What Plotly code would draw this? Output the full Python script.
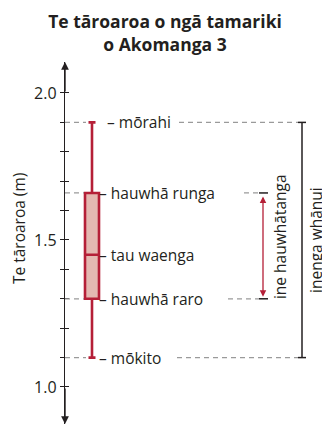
import plotly.graph_objects as go

# --------------------------- DATA ---------------------------

stat_labels = ["mōrahi", "hauwhā runga", "tau waenga", "hauwhā raro", "mōkito"]
stat_values = [1.90, 1.66, 1.45, 1.30, 1.10]

tick_values = [1.0, 1.1, 1.2, 1.3, 1.4, 1.5, 1.6, 1.7, 1.8, 1.9, 2.0]
tick_labels = ["1.0", "", "", "", "", "1.5", "", "", "", "", "2.0"]

title_text = "Te tāroaroa o ngā tamariki<br>o Akomanga 3"
y_title = "Te tāroaroa (m)"
iqr_label = "ine hauwhātanga"
range_label = "inenga whānui"

v_max, v_q3, v_med, v_q1, v_min = stat_values

# --------------------------- STYLE ---------------------------

FONT = "Open Sans"
TEXT = "#231f20"
RED = "#b51f37"
PINK = "#e4b8b1"
GREY = "#9a9a9a"

# the page body adds an 8px margin, so the figure is drawn 8px smaller
OFF = 8
W, H = 330 - OFF, 428 - OFF

Y_RANGE = [0.8741, 2.1054]
AXIS_X = 65          # x data units == screen pixels
BOX_X = 92

fig = go.Figure()

fig.add_trace(
    go.Box(
        x=[BOX_X],
        q1=[v_q1],
        median=[v_med],
        q3=[v_q3],
        lowerfence=[v_min],
        upperfence=[v_max],
        width=14,
        whiskerwidth=0.5,
        fillcolor=PINK,
        line=dict(color=RED, width=2.6),
        boxpoints=False,
        hoverinfo="skip",
        showlegend=False,
    )
)

# dummy trace so the overlay axis (inner half of the ticks) is drawn
fig.add_trace(go.Scatter(x=[AXIS_X], y=[v_med], yaxis="y2", mode="markers",
                         marker=dict(opacity=0), hoverinfo="skip", showlegend=False))

# --------------------------- GUIDES ---------------------------

dash_style = "5px,4px"
left_end = {v_max: 86, v_q3: 84, v_q1: 84, v_min: 86}
right_start = {v_max: 179, v_q3: 244, v_q1: 228, v_min: 177}
right_end = {v_max: 298, v_q3: 259, v_q1: 259, v_min: 298}

shapes = []
for v in [v_max, v_q3, v_q1, v_min]:
    shapes.append(dict(type="line", xref="x", yref="y", x0=AXIS_X, x1=left_end[v], y0=v, y1=v,
                       line=dict(color=GREY, width=1.2, dash=dash_style)))
    shapes.append(dict(type="line", xref="x", yref="y", x0=right_start[v], x1=right_end[v], y0=v, y1=v,
                       line=dict(color=GREY, width=1.2, dash=dash_style)))

# range bracket
shapes.append(dict(type="line", x0=302, x1=302, y0=v_min, y1=v_max, line=dict(color=TEXT, width=1.5)))
for v in [v_min, v_max]:
    shapes.append(dict(type="line", x0=298, x1=306, y0=v, y1=v, line=dict(color=TEXT, width=1.5)))

# IQR caps
for v in [v_q3, v_q1]:
    shapes.append(dict(type="line", x0=259, x1=268, y0=v, y1=v, line=dict(color=TEXT, width=1.5)))

annotations = []

# value labels
label_x = [105, 97, 97, 97, 97]
for lab, v, lx in zip(stat_labels, stat_values, label_x):
    annotations.append(dict(x=lx, y=v, text="– " + lab, showarrow=False, xanchor="left",
                            yanchor="middle", font=dict(family=FONT, size=15.5, color=TEXT)))

# IQR double arrow
annotations.append(dict(x=263, y=v_q1, ax=263, ay=v_q3, xref="x", yref="y", axref="x", ayref="y",
                        text="", showarrow=True, arrowhead=2, arrowside="end+start", arrowsize=1,
                        arrowwidth=1.3, arrowcolor=RED, standoff=2, startstandoff=2))

# axis arrows
annotations.append(dict(x=AXIS_X, y=Y_RANGE[1], ax=AXIS_X, ay=2.0, xref="x", yref="y", axref="x",
                        ayref="y", text="", showarrow=True, arrowhead=2, arrowsize=1.1,
                        arrowwidth=1.4, arrowcolor=TEXT))
annotations.append(dict(x=AXIS_X, y=Y_RANGE[0], ax=AXIS_X, ay=1.0, xref="x", yref="y", axref="x",
                        ayref="y", text="", showarrow=True, arrowhead=2, arrowsize=1.1,
                        arrowwidth=1.4, arrowcolor=TEXT))

# rotated labels
annotations.append(dict(x=280, y=1.51, text=iqr_label, textangle=-90, showarrow=False,
                        xanchor="center", font=dict(family=FONT, size=15.5, color=TEXT)))
annotations.append(dict(x=316, y=1.50, text=range_label, textangle=-90, showarrow=False,
                        xanchor="center", font=dict(family=FONT, size=15.5, color=TEXT)))
annotations.append(dict(x=(19 - AXIS_X) / (330 - AXIS_X), xref="paper", y=1.537, yref="y",
                        text=y_title, textangle=-90, showarrow=False, xanchor="center",
                        font=dict(family=FONT, size=15.5, color=TEXT)))

# --------------------------- LAYOUT ---------------------------

fig.update_layout(
    width=W,
    height=H,
    margin=dict(l=AXIS_X - OFF, r=0, t=62 - OFF, b=H - (424 - OFF)),
    plot_bgcolor="white",
    paper_bgcolor="white",
    title=dict(text=f"<b>{title_text}</b>", x=(165 - OFF) / W, xref="container",
               y=1 - 20 / H, yanchor="top",
               font=dict(family=FONT, size=17.5, color=TEXT)),
    xaxis=dict(range=[AXIS_X, 330], visible=False, fixedrange=True),
    yaxis=dict(range=Y_RANGE, showgrid=False, zeroline=False, showline=True, linecolor=TEXT,
               linewidth=1.4, ticks="outside", ticklen=4, tickwidth=1.4, tickcolor=TEXT,
               tickvals=tick_values, ticktext=tick_labels,
               tickfont=dict(family=FONT, size=16, color=TEXT)),
    yaxis2=dict(range=Y_RANGE, overlaying="y", side="left", anchor="x", showgrid=False,
                zeroline=False, showline=False, ticks="inside", ticklen=4, tickwidth=1.4,
                tickcolor=TEXT, tickvals=tick_values, showticklabels=False),
    shapes=shapes,
    annotations=annotations,
    font=dict(family=FONT, color=TEXT),
)

fig.write_html("out.html")
